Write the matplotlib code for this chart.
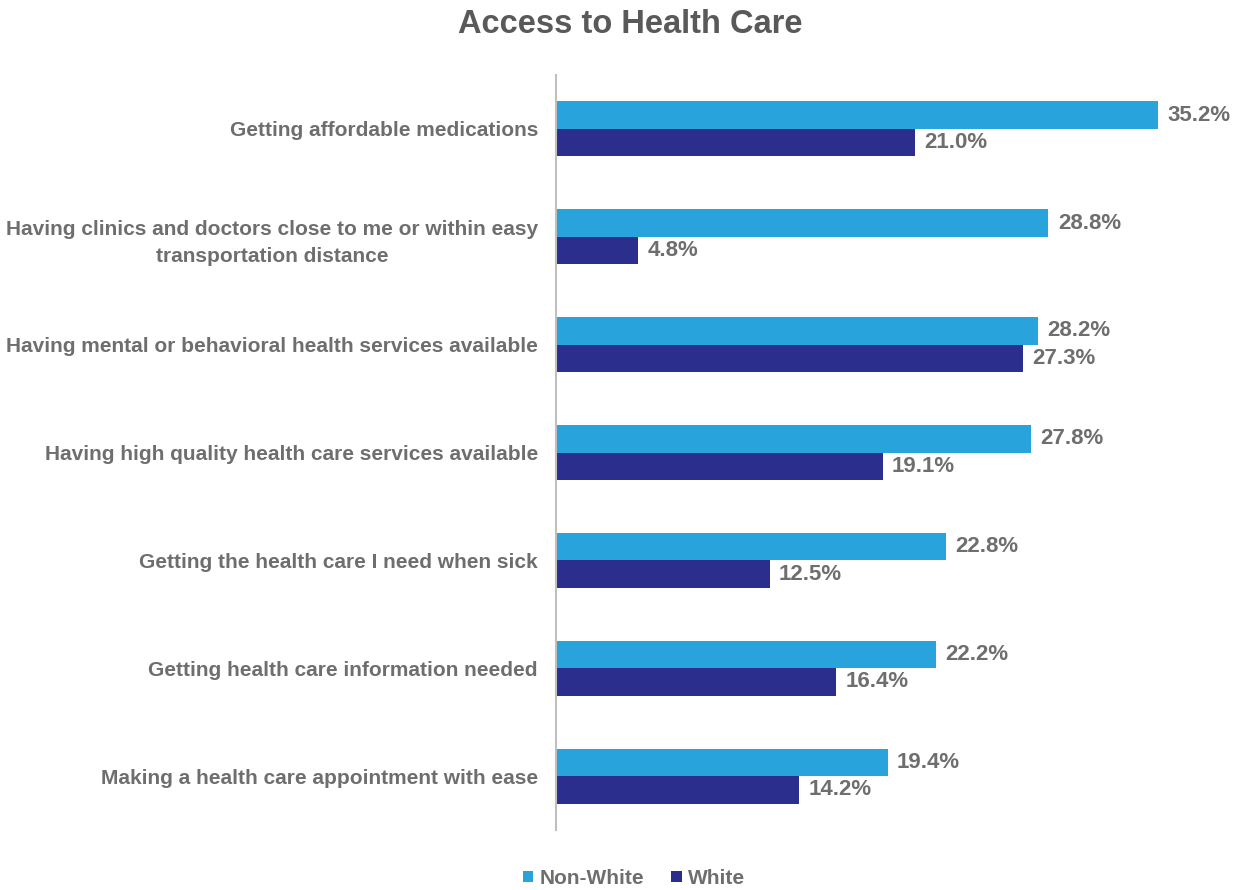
import matplotlib.pyplot as plt
import numpy as np

categories = [
    "Getting affordable medications",
    "Having clinics and doctors close to me or within easy\ntransportation distance",
    "Having mental or behavioral health services available",
    "Having high quality health care services available",
    "Getting the health care I need when sick",
    "Getting health care information needed",
    "Making a health care appointment with ease",
]
non_white = [35.2, 28.8, 28.2, 27.8, 22.8, 22.2, 19.4]
white = [21.0, 4.8, 27.3, 19.1, 12.5, 16.4, 14.2]

c_nonwhite = '#29A3DB'
c_white = '#2B2E8C'
grey = '#6E6E6E'

font = ['Liberation Sans', 'DejaVu Sans']
plt.rcParams['font.family'] = font

fig = plt.figure(figsize=(12.48, 8.90), dpi=100)
ax = fig.add_axes([0.4455, 0.0674, 0.548, 0.8483])

y = np.arange(len(categories))
h = 0.255
ax.barh(y - h / 2, non_white, height=h, color=c_nonwhite, label='Non-White')
ax.barh(y + h / 2, white, height=h, color=c_white, label='White')

for yi, v in zip(y, non_white):
    ax.text(v + 0.55, yi - h / 2, f"{v:.1f}%", va='center', ha='left',
            fontsize=16, fontweight='bold', color=grey)
for yi, v in zip(y, white):
    ax.text(v + 0.55, yi + h / 2, f"{v:.1f}%", va='center', ha='left',
            fontsize=16, fontweight='bold', color=grey)

ax.set_yticks(y)
ax.set_yticklabels(categories, fontsize=15, fontweight='bold', color=grey,
                   ha='right', multialignment='center', linespacing=1.55)
ax.tick_params(axis='y', length=0, pad=13)
ax.set_ylim(len(categories) - 0.5, -0.5)
ax.set_xlim(0, 40)
ax.set_xticks([])
for s in ['top', 'right', 'bottom']:
    ax.spines[s].set_visible(False)
ax.spines['left'].set_color('#BFBFBF')
ax.spines['left'].set_linewidth(1.5)

fig.text(0.505, 0.972, "Access to Health Care", ha='center', va='center',
         fontsize=23.5, fontweight='bold', color='#595959')

fig.legend(loc='center', bbox_to_anchor=(0.508, 0.013), ncol=2, frameon=False,
           handlelength=0.5, handleheight=0.5, handletextpad=0.3,
           columnspacing=1.3, labelcolor=grey,
           prop={'family': font, 'weight': 'bold', 'size': 15})

fig.savefig('out.png', dpi=100)
